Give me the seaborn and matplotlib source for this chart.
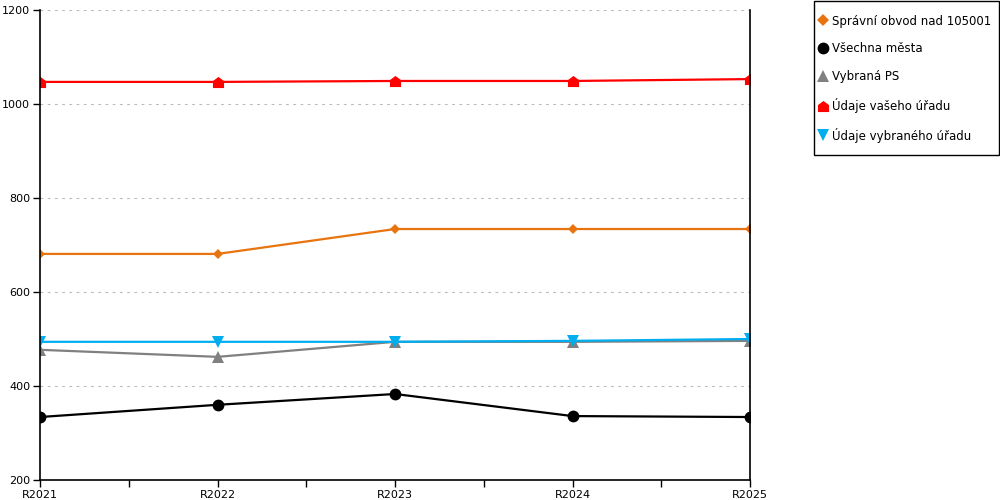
import matplotlib
matplotlib.use("Agg")
import matplotlib.pyplot as plt
import seaborn as sns
import pandas as pd
import numpy as np
from matplotlib.path import Path
from matplotlib.lines import Line2D
from matplotlib.patches import Rectangle

years = ["R2021", "R2022", "R2023", "R2024", "R2025"]
spravni = [681, 681, 734, 734, 734]
vsechna = [334, 360, 383, 336, 334]
vybrana_ps = [477, 462, 494, 494, 496]
vaseho = [1047, 1047, 1049, 1049, 1053]
vybraneho = [494, 494, 494, 496, 500]

series_names = ["Správní obvod nad 105001", "Všechna města", "Vybraná PS",
                "Údaje vašeho úřadu", "Údaje vybraného úřadu"]
series_values = [spravni, vsechna, vybrana_ps, vaseho, vybraneho]

rows = []
for name, vals in zip(series_names, series_values):
    for i, (y, v) in enumerate(zip(years, vals)):
        rows.append({"x": i, "year": y, "value": v, "series": name})
df = pd.DataFrame(rows)

house = Path([(-1, -1), (1, -1), (1, 0.25), (0, 1), (-1, 0.25), (-1, -1)],
             [Path.MOVETO, Path.LINETO, Path.LINETO, Path.LINETO, Path.LINETO, Path.CLOSEPOLY])

colors = {series_names[0]: "#E8740F", series_names[1]: "#000000",
          series_names[2]: "#808080", series_names[3]: "#FF0000",
          series_names[4]: "#00AEEF"}
markers = {series_names[0]: "D", series_names[1]: "o", series_names[2]: "^",
           series_names[3]: house, series_names[4]: "v"}
msizes = {series_names[0]: 5, series_names[1]: 8.5, series_names[2]: 8,
          series_names[3]: 8, series_names[4]: 8}
leg_msizes = {series_names[0]: 6.5, series_names[1]: 8.5, series_names[2]: 8,
              series_names[3]: 8, series_names[4]: 8.5}

sns.set_style("white")
plt.rcParams["font.family"] = ["DejaVu Sans"]
plt.rcParams["text.color"] = "black"

fig = plt.figure(figsize=(10, 5), dpi=100)
ax = fig.add_axes([0.04, 0.04, 0.71, 0.94])

for name in series_names:
    sub = df[df["series"] == name]
    sns.lineplot(data=sub, x="x", y="value", ax=ax, color=colors[name],
                 marker=markers[name], markersize=msizes[name],
                 markeredgewidth=0, linewidth=1.6, legend=False)

ax.set_xlim(0, len(years) - 1)
ax.set_ylim(200, 1200)
ax.set_xticks(range(len(years)))
ax.set_xticklabels(years)
ax.set_xticks(np.arange(0.5, len(years) - 1, 1.0), minor=True)
ax.set_yticks([200, 400, 600, 800, 1000, 1200])
ax.set_xlabel("")
ax.set_ylabel("")

ax.yaxis.grid(True, linestyle=(0, (2.5, 4)), color="#BBBBBB", linewidth=0.8)
ax.xaxis.grid(False)
ax.set_axisbelow(True)

for s in ["left", "bottom", "right"]:
    ax.spines[s].set_visible(True)
    ax.spines[s].set_color("black")
    ax.spines[s].set_linewidth(1.2)
ax.spines["top"].set_visible(False)

ax.tick_params(axis="both", which="major", direction="out", length=5, width=1,
               color="black", labelsize=8, labelcolor="black", pad=2)
ax.tick_params(axis="x", which="minor", direction="out", length=5, width=1, color="black")
ax.tick_params(axis="x", which="both", bottom=True)
ax.tick_params(axis="y", which="major", left=True)

# legend frame
fig.patches.append(Rectangle((0.8135, 0.69), 0.185, 0.309, transform=fig.transFigure,
                             fill=False, edgecolor="black", linewidth=1.0, figure=fig))

handles = [Line2D([], [], linestyle="none", marker=markers[n], color=colors[n],
                  markersize=leg_msizes[n], markeredgewidth=0) for n in series_names]
leg = fig.legend(handles, series_names, loc="upper left", bbox_to_anchor=(0.818, 0.971),
                 frameon=False, fontsize=8.5,
                 labelspacing=1.25, handlelength=0.8, handletextpad=0.35,
                 borderpad=0, borderaxespad=0, labelcolor="black")

fig.savefig("out.png", dpi=100)
